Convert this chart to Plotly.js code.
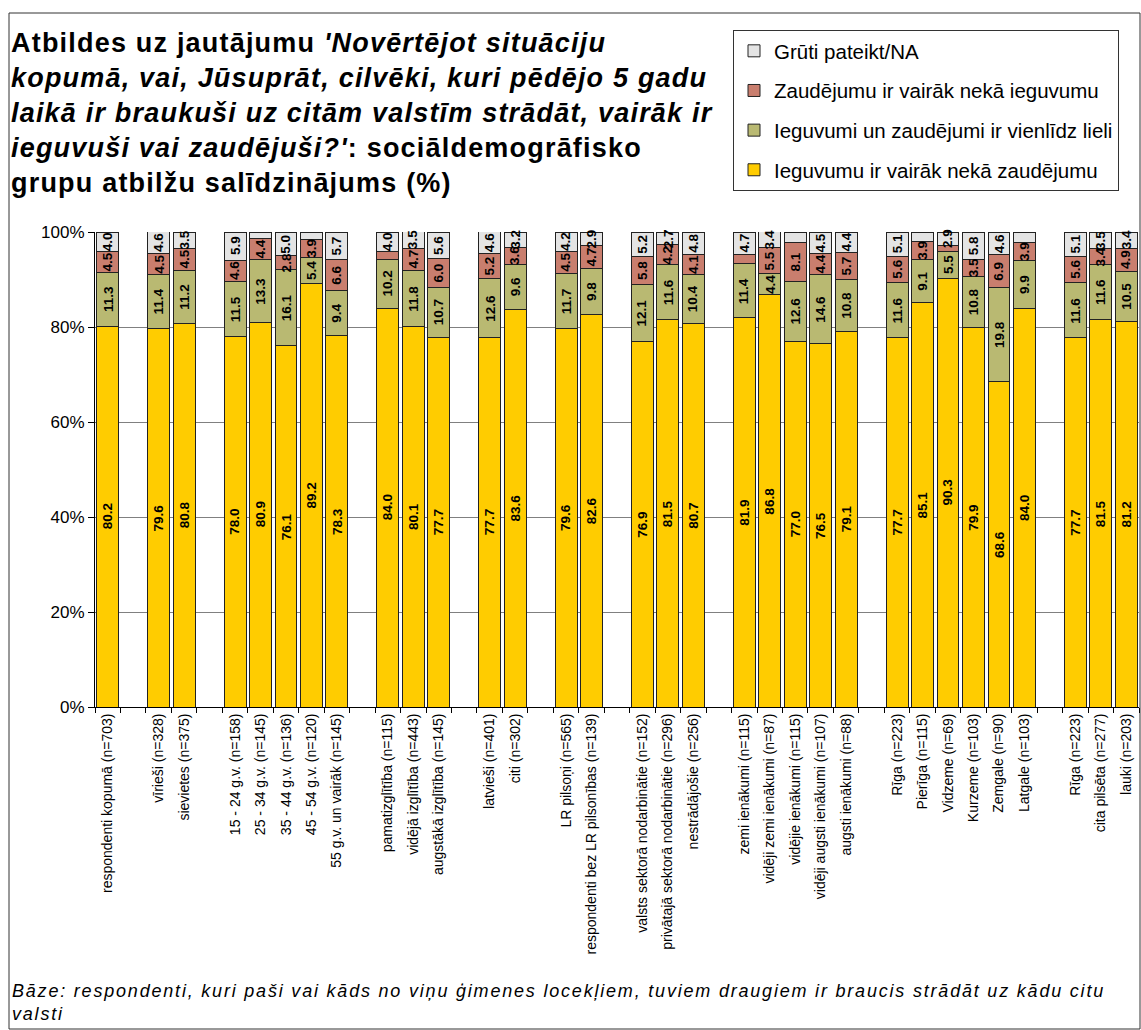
<!DOCTYPE html>
<html>
<head>
<meta charset="utf-8">
<script src="https://cdn.plot.ly/plotly-3.0.1.min.js"></script>
<style>
html,body{margin:0;padding:0;background:#fff;}
#chart{width:1141px;height:1030px;}
#chart .annotation[data-index="0"] text{letter-spacing:1.8px;}
#chart .annotation[data-index="1"] text{letter-spacing:1.2px;}
</style>
</head>
<body>
<div id="chart"></div>
<script>
const categories = [
  "respondenti kopumā (n=703)",
  "vīrieši (n=328)", "sievietes (n=375)",
  "15 - 24 g.v. (n=158)", "25 - 34 g.v. (n=145)", "35 - 44 g.v. (n=136)", "45 - 54 g.v. (n=120)", "55 g.v. un vairāk (n=145)",
  "pamatizglītība (n=115)", "vidējā izglītība (n=443)", "augstākā izglītība (n=145)",
  "latvieši (n=401)", "citi (n=302)",
  "LR pilsoņi (n=565)", "respondenti bez LR pilsonības (n=139)",
  "valsts sektorā nodarbinātie (n=152)", "privātajā sektorā nodarbinātie (n=296)", "nestrādājošie (n=256)",
  "zemi ienākumi (n=115)", "vidēji zemi ienākumi (n=87)", "vidējie ienākumi (n=115)", "vidēji augsti ienākumi (n=107)", "augsti ienākumi (n=88)",
  "Rīga (n=223)", "Pierīga (n=115)", "Vidzeme (n=69)", "Kurzeme (n=103)", "Zemgale (n=90)", "Latgale (n=103)",
  "Rīga (n=223)", "cita pilsēta (n=277)", "lauki (n=203)"
];
const groupSizes = [1, 2, 5, 3, 2, 2, 3, 5, 6, 3];

const seriesNames = [
  "Ieguvumu ir vairāk nekā zaudējumu",
  "Ieguvumi un zaudējumi ir vienlīdz lieli",
  "Zaudējumu ir vairāk nekā ieguvumu",
  "Grūti pateikt/NA"
];
const gains  = [80.2, 79.6, 80.8, 78.0, 80.9, 76.1, 89.2, 78.3, 84.0, 80.1, 77.7, 77.7, 83.6, 79.6, 82.6, 76.9, 81.5, 80.7, 81.9, 86.8, 77.0, 76.5, 79.1, 77.7, 85.1, 90.3, 79.9, 68.6, 84.0, 77.7, 81.5, 81.2];
const equal  = [11.3, 11.4, 11.2, 11.5, 13.3, 16.1, 5.4, 9.4, 10.2, 11.8, 10.7, 12.6, 9.6, 11.7, 9.8, 12.1, 11.6, 10.4, 11.4, 4.4, 12.6, 14.6, 10.8, 11.6, 9.1, 5.5, 10.8, 19.8, 9.9, 11.6, 11.6, 10.5];
const losses = [4.5, 4.5, 4.5, 4.6, 4.4, 2.8, 3.9, 6.6, 1.8, 4.7, 6.0, 5.2, 3.6, 4.5, 4.7, 5.8, 4.2, 4.1, 2.0, 5.5, 8.1, 4.4, 5.7, 5.6, 3.9, 1.3, 3.5, 6.9, 3.9, 5.6, 3.4, 4.9];
const hard   = [4.0, 4.6, 3.5, 5.9, 1.4, 5.0, 1.5, 5.7, 4.0, 3.5, 5.6, 4.6, 3.2, 4.2, 2.9, 5.2, 2.7, 4.8, 4.7, 3.4, 2.3, 4.5, 4.4, 5.1, 1.9, 2.9, 5.8, 4.6, 2.2, 5.1, 3.5, 3.4];
const yTicks = [0, 20, 40, 60, 80, 100];

const titleText = "<b>Atbildes uz jautājumu <i>'Novērtējot situāciju</i><br>" +
  "<i>kopumā, vai, Jūsuprāt, cilvēki, kuri pēdējo 5 gadu</i><br>" +
  "<i>laikā ir braukuši uz citām valstīm strādāt, vairāk ir</i><br>" +
  "<i>ieguvuši vai zaudējuši?'</i>: sociāldemogrāfisko<br>" +
  "grupu atbilžu salīdzinājums (%)</b>";
const footText = "<i>Bāze: respondenti, kuri paši vai kāds no viņu ģimenes locekļiem, tuviem draugiem ir braucis strādāt uz kādu citu</i><br><i>valsti</i>";

// slot positions: one empty slot between groups
const xs = [];
let slot = 0;
groupSizes.forEach(n => { for (let i = 0; i < n; i++) xs.push(slot++); slot++; });
const lastSlot = xs[xs.length - 1];
const bounds = [];
for (let b = -0.5; b <= lastSlot + 0.5; b += 1) bounds.push(b);

const colors = ["#FFCC00", "#B9B972", "#C97E6E", "#E4E4E4"];
const values = [gains, equal, losses, hard];

const traces = values.map((vals, k) => ({
  type: "bar",
  x: xs,
  y: vals,
  name: seriesNames[k],
  legendgroup: "g" + k,
  legendrank: 10 - k,
  marker: { color: colors[k], line: { color: "#222", width: 1 } },
  textposition: "none",
  hoverinfo: "skip"
}));

// value labels, centred in each stacked segment (hidden for very small segments)
const labelAnns = [];
const base = xs.map(() => 0);
values.forEach(vals => {
  vals.forEach((v, i) => {
    if (v >= 2.5) {
      labelAnns.push({
        x: xs[i], y: base[i] + v / 2, xref: "x", yref: "y",
        text: "<b>" + v.toFixed(1) + "</b>",
        textangle: -90, showarrow: false,
        font: { size: 13.5, color: "#000" }
      });
    }
    base[i] += v;
  });
});

const layout = {
  width: 1141,
  height: 1030,
  barmode: "stack",
  bargap: 0.14,
  paper_bgcolor: "#fff",
  plot_bgcolor: "#fff",
  font: { family: "Liberation Sans, Arial, sans-serif", color: "#000" },
  margin: { l: 95, r: 2, t: 232, b: 323, pad: 0 },
  xaxis: {
    range: [-0.5, lastSlot + 0.5],
    tickmode: "array",
    tickvals: xs,
    ticktext: categories,
    tickangle: -90,
    ticks: "",
    tickfont: { size: 14, color: "#000" },
    showgrid: false,
    zeroline: false,
    showline: true,
    linecolor: "#000",
    linewidth: 1,
    minor: { tickmode: "array", tickvals: bounds, ticks: "outside", ticklen: 5, tickcolor: "#000", showgrid: false }
  },
  yaxis: {
    range: [0, 100],
    tickmode: "array",
    tickvals: yTicks,
    ticktext: yTicks.map(v => v + "%"),
    ticks: "outside",
    ticklen: 6,
    tickcolor: "#000",
    tickfont: { size: 17, color: "#000" },
    showgrid: true,
    gridcolor: "#808080",
    gridwidth: 1,
    zeroline: false,
    showline: true,
    linecolor: "#000",
    linewidth: 1
  },
  legend: {
    x: (733 - 95) / 1044, xanchor: "left",
    y: (707 - 30) / 475, yanchor: "top",
    bgcolor: "#fff",
    bordercolor: "#333",
    borderwidth: 1,
    font: { size: 20.5, color: "#000" },
    tracegroupgap: 10,
    traceorder: "grouped"
  },
  shapes: [{
    type: "rect", xref: "paper", yref: "paper",
    x0: (9 - 95) / 1044, x1: (1140 - 95) / 1044,
    y0: (707 - 1029) / 475, y1: (707 - 13) / 475,
    line: { color: "#333", width: 1 }, fillcolor: "rgba(0,0,0,0)", layer: "below"
  }],
  annotations: [{
    text: footText,
    xref: "paper", yref: "paper",
    x: (10 - 95) / 1044, xanchor: "left",
    y: (707 - 979) / 475, yanchor: "top",
    align: "left",
    showarrow: false,
    font: { size: 18, color: "#000" }
  }, {
    text: titleText,
    xref: "paper", yref: "paper",
    x: (9 - 95) / 1044, xanchor: "left",
    y: (707 - 26) / 475, yanchor: "top",
    align: "left",
    showarrow: false,
    font: { size: 27, color: "#000" }
  }].concat(labelAnns)
};

Plotly.newPlot("chart", traces, layout, { displayModeBar: false, staticPlot: true });
</script>
</body>
</html>
